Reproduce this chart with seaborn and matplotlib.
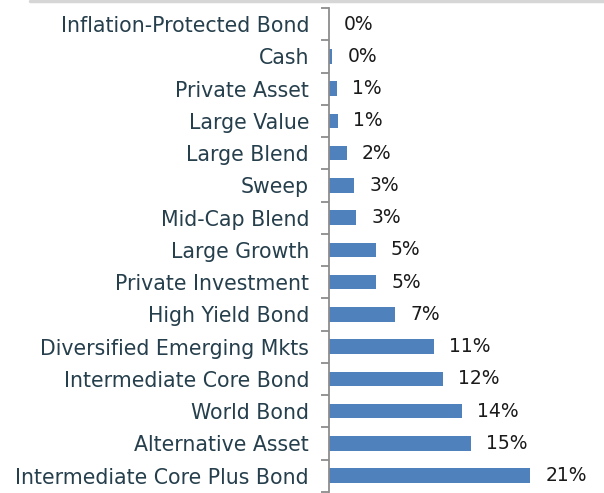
import matplotlib
matplotlib.use("Agg")
import matplotlib.pyplot as plt
import seaborn as sns
import pandas as pd
from matplotlib.lines import Line2D

categories = [
    "Inflation-Protected Bond", "Cash", "Private Asset", "Large Value",
    "Large Blend", "Sweep", "Mid-Cap Blend", "Large Growth",
    "Private Investment", "High Yield Bond", "Diversified Emerging Mkts",
    "Intermediate Core Bond", "World Bond", "Alternative Asset",
    "Intermediate Core Plus Bond",
]
values = [0.0, 0.4, 0.9, 1.0, 1.9, 2.7, 2.9, 4.9, 5.0, 6.9, 11.0, 11.9, 13.9, 14.8, 21.0]
value_labels = ["0%", "0%", "1%", "1%", "2%", "3%", "3%", "5%", "5%", "7%",
                "11%", "12%", "14%", "15%", "21%"]

df = pd.DataFrame({"category": categories, "value": values})

sns.set_theme(style="white")
plt.rcParams["font.family"] = ["DejaVu Sans"]

fig = plt.figure(figsize=(6.04, 4.93), dpi=100)
ax = fig.add_axes([328.5 / 604, 1 - 491.75 / 493, 1 - 328.5 / 604, (491.75 - 8) / 493])

sns.barplot(data=df, y="category", x="value", orient="h", color="#4f81bd",
            saturation=1, width=0.45, linewidth=0, ax=ax)

ax.set_xlim(0, 28.7)
ax.set_ylim(len(categories) - 0.5, -0.5)
ax.set_xlabel("")
ax.set_ylabel("")
ax.set_xticks([])

for s in ["top", "right", "bottom"]:
    ax.spines[s].set_visible(False)
ax.spines["left"].set_color("#8c8c8c")
ax.spines["left"].set_linewidth(1.3)

ax.set_yticks(range(len(categories)))
ax.set_yticklabels(categories, fontsize=14.8, color="#263f4c")
ax.tick_params(axis="y", which="major", length=0, pad=14)
ax.set_yticks([i - 0.5 for i in range(len(categories) + 1)], minor=True)
ax.tick_params(axis="y", which="minor", length=5.5, width=1.3, color="#8c8c8c", left=True)

for i, (v, lab) in enumerate(zip(values, value_labels)):
    ax.annotate(lab, xy=(v, i), xytext=(11, 0), textcoords="offset points",
                ha="left", va="center", fontsize=13.5, color="#1a1a1a",
                annotation_clip=False)

fig.add_artist(Line2D([30 / 604, 1.0], [1 - 1 / 493, 1 - 1 / 493],
                      transform=fig.transFigure, color="#d6d6d6", linewidth=2.5))

fig.savefig("out.png", dpi=100)
